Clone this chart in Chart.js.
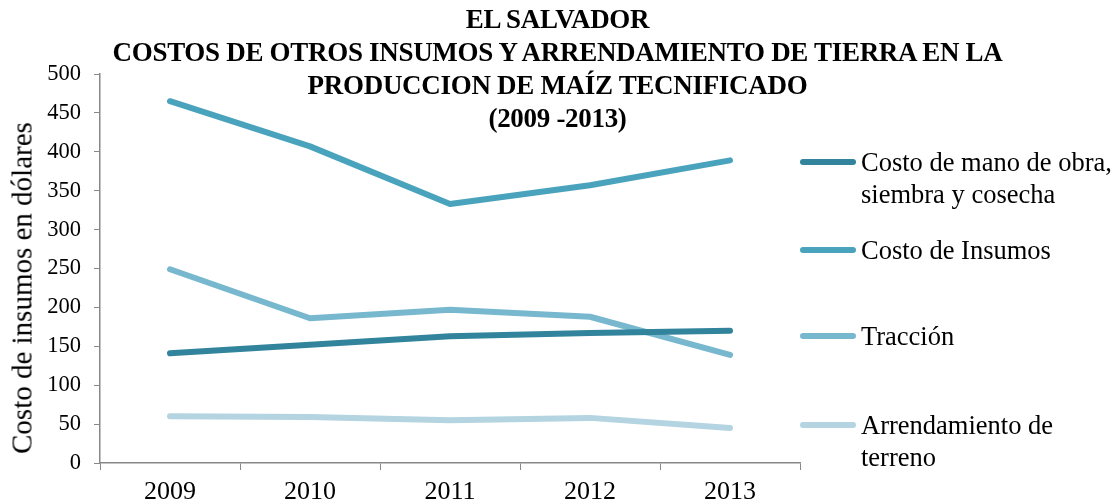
<!DOCTYPE html>
<html>
<head>
<meta charset="utf-8">
<script src="https://cdn.jsdelivr.net/npm/chart.js@4"></script>
<style>
  body { margin: 0; background: #fff; }
  #wrap { position: relative; width: 1115px; height: 504px; overflow: hidden; }
  #titulo {
    position: absolute; left: 0; top: 3px; width: 1115px;
    text-align: center; font-family: 'Liberation Serif', serif;
    font-weight: bold; font-size: 27px; line-height: 33px; color: #000;
    letter-spacing: -0.3px;
  }
  #ytitulo {
    position: absolute; left: 22px; top: 288px; white-space: nowrap;
    transform: translate(-50%, -50%) rotate(-90deg);
    font-family: 'Liberation Serif', serif; font-size: 29px; color: #000;
  }
  #leyenda {
    position: absolute; left: 800px; top: 0; width: 315px;
    font-family: 'Liberation Serif', serif; font-size: 26.5px; line-height: 32px; color: #000;
  }
  .item { position: absolute; left: 0; display: flex; align-items: flex-start; white-space: nowrap; }
  .linea { width: 56px; height: 6px; border-radius: 3px; margin-top: 13px; margin-right: 5px; flex: none; }
</style>
</head>
<body>
<div id="wrap">
  <canvas id="grafico" width="1115" height="504"></canvas>
  <div id="titulo">EL SALVADOR<br>COSTOS DE OTROS INSUMOS Y ARRENDAMIENTO DE TIERRA EN LA<br>PRODUCCION DE MAÍZ TECNIFICADO<br>(2009 -2013)</div>
  <div id="ytitulo">Costo de insumos en dólares</div>
  <div id="leyenda"></div>
</div>
<script>
// datos
const anios = ['2009', '2010', '2011', '2012', '2013'];
const manoObra = [141, 152, 163, 167, 170];
const insumos = [465, 407, 333, 357, 389];
const traccion = [249, 186, 197, 188, 139];
const arrendamiento = [60, 59, 55, 58, 45];

const series = [
    { label: ['Costo de mano de obra,', 'siembra y cosecha'], data: manoObra, color: '#31849b', top: 146 },
    { label: ['Costo de Insumos'], data: insumos, color: '#4aa3bc', top: 234 },
    { label: ['Tracción'], data: traccion, color: '#78b8cf', top: 320 },
    { label: ['Arrendamiento de', 'terreno'], data: arrendamiento, color: '#b3d4e0', top: 409 }
];

const fuente = "'Liberation Serif', serif";

new Chart(document.getElementById('grafico'), {
    type: 'line',
    data: {
        labels: anios,
        datasets: series.map(s => ({
            label: s.label.join(' '),
            data: s.data,
            borderColor: s.color,
            backgroundColor: s.color,
            borderWidth: 6,
            pointRadius: 0,
            borderCapStyle: 'round',
            borderJoinStyle: 'round',
            tension: 0
        }))
    },
    options: {
        responsive: false,
        animation: false,
        layout: { padding: { top: 74, right: 315, left: 0, bottom: 0 } },
        plugins: {
            legend: { display: false },
            tooltip: { enabled: false }
        },
        scales: {
            x: {
                offset: true,
                grid: { offset: true, drawOnChartArea: false, color: '#888', tickLength: 7 },
                border: { color: '#888', width: 1.5 },
                ticks: { color: '#000', font: { family: fuente, size: 26 }, padding: 7 },
                afterFit: s => { s.height = 41; }
            },
            y: {
                min: 0,
                max: 500,
                ticks: { stepSize: 50, color: '#000', font: { family: fuente, size: 22.5 }, padding: 13 },
                grid: { drawOnChartArea: false, color: '#888', tickLength: 6 },
                border: { color: '#888', width: 1.5 },
                afterFit: s => { s.width = 100; }
            }
        }
    }
});

// leyenda a la derecha
const leyenda = document.getElementById('leyenda');
series.forEach(s => {
    const div = document.createElement('div');
    div.className = 'item';
    div.style.top = s.top + 'px';
    div.innerHTML = '<span class="linea" style="background:' + s.color + '"></span><span>' + s.label.join('<br>') + '</span>';
    leyenda.appendChild(div);
});
</script>
</body>
</html>
